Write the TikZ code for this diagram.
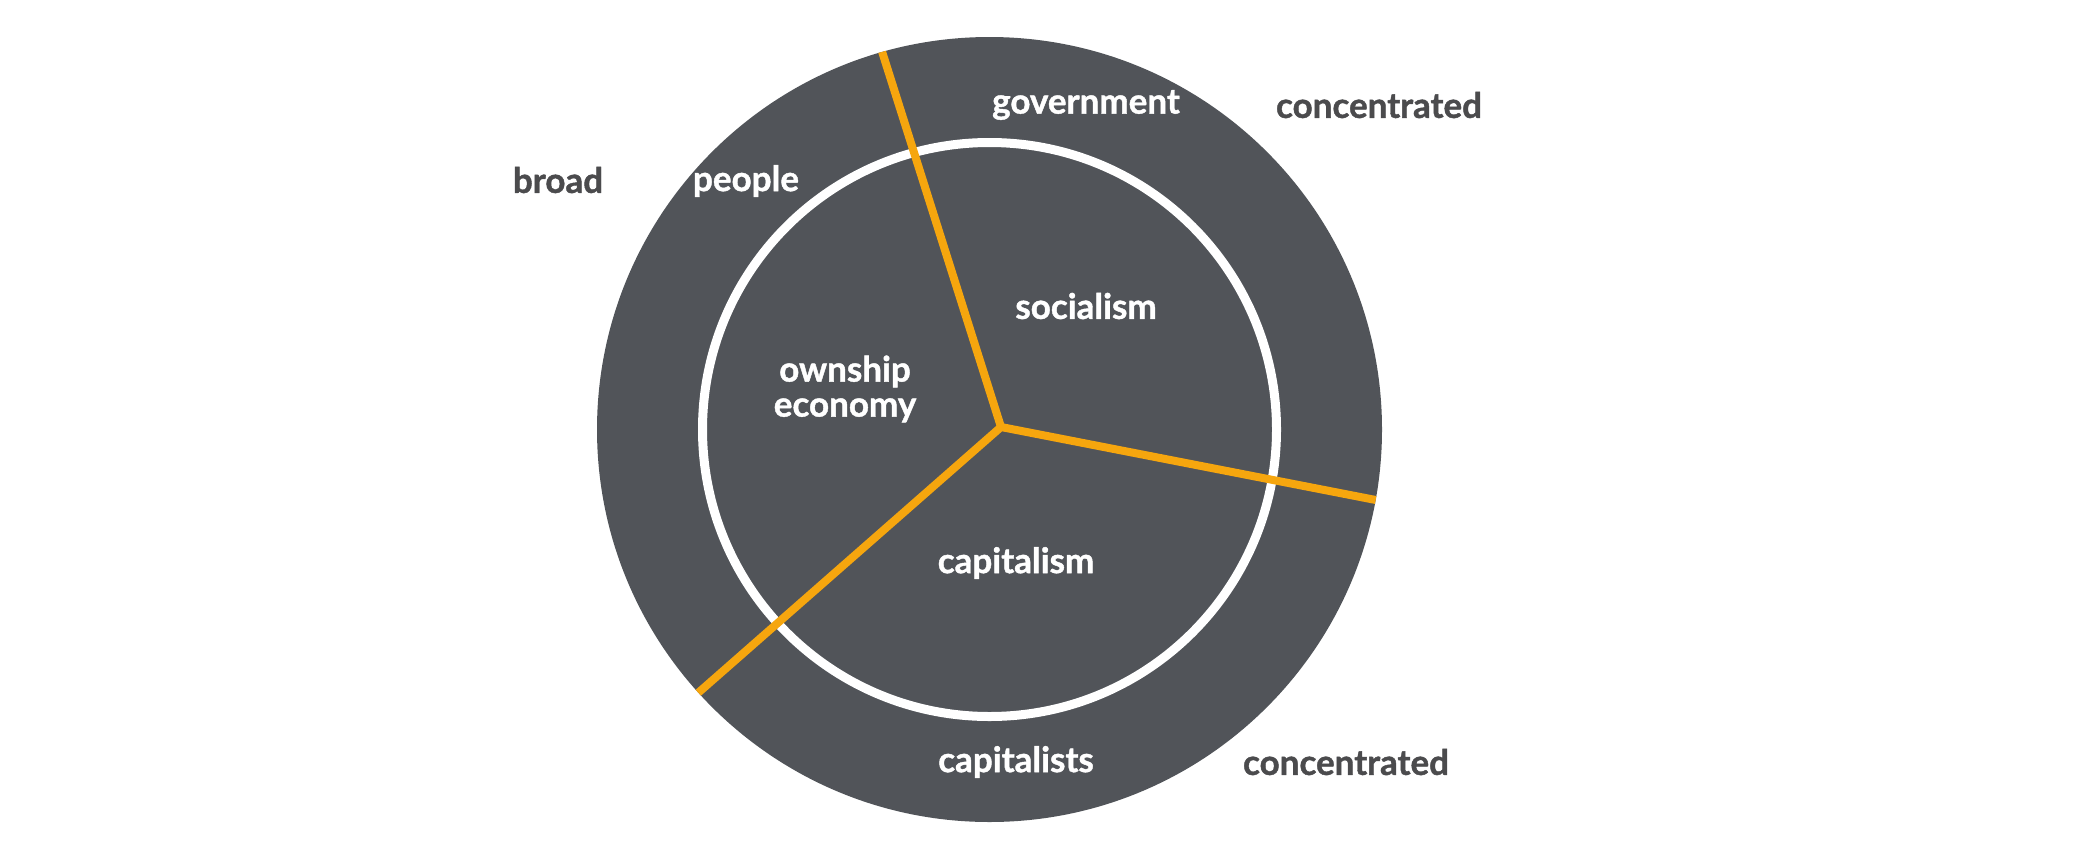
\documentclass[tikz,border=0pt]{standalone}
\usepackage{fontspec}
\setmainfont{Lato}[BoldFeatures={FakeBold=1.2}]
\definecolor{disc}{HTML}{515459}
\definecolor{txtgray}{HTML}{4B4B4D}
\definecolor{orng}{HTML}{F6A60E}
\tikzset{
  lbl/.style={font=\fontsize{35}{40}\selectfont\bfseries, text=white, inner sep=0pt, align=center},
  outlbl/.style={lbl, text=txtgray},
  divider/.style={draw=orng, line width=8pt, line cap=round}
}
\begin{document}
\begin{tikzpicture}[x=1pt,y=-1pt]
\useasboundingbox (0,0) rectangle (2077,841);
\coordinate (C) at (989.5,429.5);
\fill[disc] (C) circle[radius=392.5];
\draw[white, line width=9pt] (C) circle[radius=287];
\coordinate (J) at (1001,427);
\coordinate (T) at (879,42);
\coordinate (R) at (1386,502);
\coordinate (B) at (690,700);
\begin{scope}
  \clip (C) circle[radius=392.5];
  \draw[divider] (J) -- (T);
  \draw[divider] (J) -- (R);
  \draw[divider] (J) -- (B);
\end{scope}
\node[lbl] (gov) at (1086,105) {government};
\node[lbl] (peo) at (746,181) {people};
\node[lbl] (soc) at (1086,306) {socialism};
\node[lbl] (own) at (845,389) {ownship\\[-5pt]economy};
\node[lbl] (capm) at (1016,563) {capitalism};
\node[lbl] (capt) at (1016,762) {capitalists};
\node[outlbl] (broad) at (558,180) {broad};
\node[outlbl] (conc1) at (1379,105) {concentrated};
\node[outlbl] (conc2) at (1346,762) {concentrated};
\end{tikzpicture}
\end{document}
